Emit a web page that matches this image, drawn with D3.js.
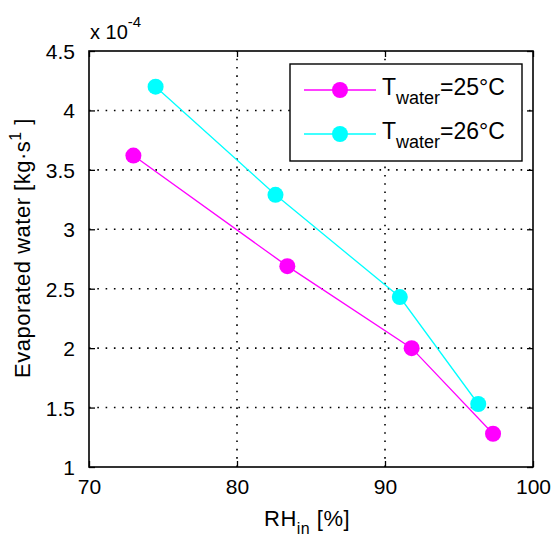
<!DOCTYPE html>
<html><head><meta charset="utf-8">
<script src="https://cdn.jsdelivr.net/npm/d3@7"></script>
<style>
html,body{margin:0;padding:0;background:#fff;}
text{font-family:"Liberation Sans",Arial,sans-serif;fill:#000;}
</style></head>
<body><svg id="c" width="552" height="536"></svg>
<script>
const rh25 = [73.0, 83.4, 91.8, 97.3];
const ev25 = [3.62, 2.69, 2.00, 1.28];
const rh26 = [74.5, 82.6, 91.0, 96.3];
const ev26 = [4.20, 3.29, 2.43, 1.53];
const xTicks = [70, 80, 90, 100];
const yTicks = [1, 1.5, 2, 2.5, 3, 3.5, 4, 4.5];
const seriesNames = ["25", "26"];
const seriesColors = ["#ff00ff", "#00ffff"];

const svg = d3.select("#c");
const L = 89, R = 533, T = 51, B = 467;
const x = d3.scaleLinear().domain([70, 100]).range([L, R]);
const y = d3.scaleLinear().domain([1, 4.5]).range([B, T]);

// grid
const grid = svg.append("g").attr("stroke", "#000").attr("stroke-width", 1.6).attr("stroke-dasharray", "1.6,6.7");
grid.selectAll("line.gx").data(xTicks.slice(1, -1)).join("line")
  .attr("x1", d => x(d)).attr("x2", d => x(d)).attr("y1", B).attr("y2", T);
grid.selectAll("line.gy").data(yTicks.slice(1, -1)).join("line")
  .attr("y1", d => y(d)).attr("y2", d => y(d)).attr("x1", L).attr("x2", R);

// axes with inward ticks
const fs = 21;
const axB = svg.append("g").attr("transform", `translate(0,${B})`)
  .call(d3.axisBottom(x).tickValues(xTicks).tickSize(-6).tickPadding(12).tickFormat(d3.format("d")));
const axT = svg.append("g").attr("transform", `translate(0,${T})`)
  .call(d3.axisTop(x).tickValues(xTicks).tickSize(-6).tickFormat(""));
const axL = svg.append("g").attr("transform", `translate(${L},0)`)
  .call(d3.axisLeft(y).tickValues(yTicks).tickSize(-6).tickPadding(14).tickFormat(d => d3.format("")(d)));
const axR = svg.append("g").attr("transform", `translate(${R},0)`)
  .call(d3.axisRight(y).tickValues(yTicks).tickSize(-6).tickFormat(""));
[axB, axT, axL, axR].forEach(a => {
  a.select(".domain").remove();
  a.selectAll("line").attr("stroke", "#000").attr("stroke-width", 1.3);
  a.selectAll("text").style("font-size", fs + "px").style("font-family", "Liberation Sans, Arial, sans-serif").attr("fill", "#000");
});
axB.selectAll("text").attr("dy", "0.71em");
axL.selectAll("text").attr("dy", "0.36em");

svg.append("rect").attr("x", L).attr("y", T).attr("width", R - L).attr("height", B - T)
  .attr("fill", "none").attr("stroke", "#000").attr("stroke-width", 1.6);

// series
const data = [
  {xs: rh25, ys: ev25, c: seriesColors[0]},
  {xs: rh26, ys: ev26, c: seriesColors[1]}
];
const line = d3.line().x(d => x(d[0])).y(d => y(d[1]));
data.forEach(s => {
  const pts = s.xs.map((v, i) => [v, s.ys[i]]);
  svg.append("path").attr("d", line(pts)).attr("fill", "none").attr("stroke", s.c).attr("stroke-width", 1.3);
  svg.selectAll(null).data(pts).join("circle")
    .attr("cx", d => x(d[0])).attr("cy", d => y(d[1])).attr("r", 8).attr("fill", s.c);
});

// exponent label
const ex = svg.append("text").attr("x", 90).attr("y", 39).style("font-size", "20px");
ex.append("tspan").text("x 10");
ex.append("tspan").attr("dy", -12).style("font-size", "15px").text("-4");

// y label
const yl = svg.append("text").attr("transform", "translate(30,248) rotate(-90)")
  .attr("text-anchor", "middle").style("font-size", "22px").style("letter-spacing", "0.5px");
yl.append("tspan").text("Evaporated water [kg\u00B7s");
yl.append("tspan").attr("dy", -9).style("font-size", "16px").text("1");
yl.append("tspan").attr("dy", 9).text(" ]");

// x label
const xl = svg.append("text").attr("x", 264).attr("y", 526).style("font-size", "22px").style("letter-spacing", "0.5px");
xl.append("tspan").text("RH");
xl.append("tspan").attr("dy", 8).style("font-size", "16px").text("in");
xl.append("tspan").attr("dy", -8).text(" [%]");

// legend
const lg = svg.append("g");
lg.append("rect").attr("x", 290).attr("y", 64).attr("width", 232).attr("height", 97)
  .attr("fill", "#fff").attr("stroke", "#000").attr("stroke-width", 1.4);
const ly = [90, 134];
data.forEach((s, i) => {
  lg.append("line").attr("x1", 304).attr("x2", 376).attr("y1", ly[i]).attr("y2", ly[i])
    .attr("stroke", s.c).attr("stroke-width", 1.3);
  lg.append("circle").attr("cx", 340).attr("cy", ly[i]).attr("r", 8).attr("fill", s.c);
  const t = lg.append("text").attr("x", 382).attr("y", ly[i] + 5).style("font-size", "23px");
  t.append("tspan").text("T");
  t.append("tspan").attr("dy", 9).style("font-size", "18px").text("water");
  t.append("tspan").attr("dy", -9).text("=" + seriesNames[i] + "\u00B0C");
});
</script></body></html>
